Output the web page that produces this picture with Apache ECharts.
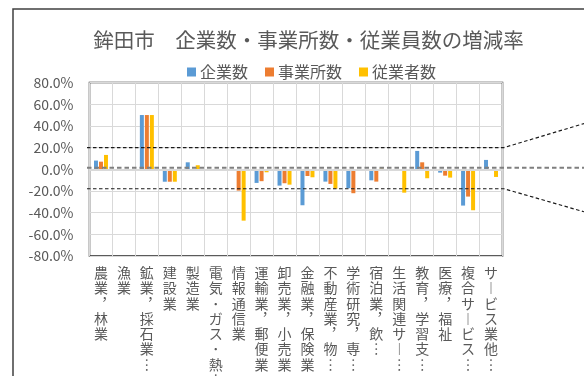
<!DOCTYPE html>
<html><head><meta charset="utf-8">
<script src="https://cdn.jsdelivr.net/npm/echarts@6.0.0/dist/echarts.min.js"></script>
<style>html,body{margin:0;padding:0;background:#fff}#c{width:584px;height:376px}</style>
</head><body><div id="c"></div>
<script>
const chartTitle = '鉾田市　企業数・事業所数・従業員数の増減率';
const categories = ['農業，林業','漁業','鉱業，採石業…','建設業','製造業','電気･ガス･熱…','情報通信業','運輸業，郵便業','卸売業，小売業','金融業，保険業','不動産業，物…','学術研究，専…','宿泊業，飲…','生活関連サー…','教育，学習支…','医療，福祉','複合サービス…','サービス業他…'];
const seriesNames = ['企業数','事業所数','従業者数'];
const companies      = [8, 0, 50, -11.5, 6.4, 0, 0, -12.6, -15.1, -33.2, -11.4, -17.5, -10.2, 0, 16.9, -3.1, -33.5, 8.6];
const establishments = [7, 0, 50, -11.5, 0, 0, -19.7, -11, -12.9, -6.2, -13.5, -22.1, -11.4, -0.8, 6.4, -5.9, -25.2, -1];
const employees      = [13.2, 0, 50, -11.5, 3.7, 0, -47.4, -2.8, -14.2, -7.4, -17.9, 0, 0.5, -21.6, -8.3, -7.7, -37.8, -7.1];
const yMin = -80, yMax = 80, yStep = 20;
const guideLevels = [20, 0, -18];

const colors = ['#5B9BD5', '#ED7D31', '#FFC000'];
const FONT = "'Noto Sans CJK JP', 'Noto Sans', sans-serif";
const TXT = '#595959';
const G = {left: 89.5, right: 81.5, top: 82.5, bottom: 120};
const vmap = {'，':'︐', '…':'︙', 'ー':'︱', '、':'︑'};

const chart = echarts.init(document.getElementById('c'), null, {renderer: 'canvas'});
const dataSets = [companies, establishments, employees];

const option = {
  animation: false,
  backgroundColor: '#fff',
  color: colors,
  textStyle: {fontFamily: FONT},
  title: {
    text: chartTitle, left: 303.5, top: 25, textAlign: 'center',
    textStyle: {fontFamily: FONT, fontSize: 20.5, fontWeight: 'normal', color: TXT}
  },
  legend: {
    left: 182, top: 59, itemWidth: 9, itemHeight: 9, itemGap: 17, icon: 'rect',
    textStyle: {fontFamily: FONT, fontSize: 16, color: TXT, padding: [0,0,0,-1]},
    data: seriesNames
  },
  grid: Object.assign({show: true, borderColor: '#262626', borderWidth: 1.5, containLabel: false, outerBoundsMode: 'none'}, G),
  xAxis: {
    type: 'category', data: categories,
    axisLine: {show: false, onZero: false},
    axisTick: {show: false},
    splitLine: {show: true, interval: 0, lineStyle: {color: '#d9d9d9', width: 1}},
    axisLabel: {
      interval: 0, margin: 9, color: TXT, fontFamily: FONT, fontSize: 14, lineHeight: 15.3,
      formatter: name => Array.from(name).map(c => vmap[c] || c).join('\n')
    }
  },
  yAxis: {
    type: 'value', min: yMin, max: yMax, interval: yStep,
    axisLine: {show: false}, axisTick: {show: false},
    splitLine: {lineStyle: {color: '#d9d9d9', width: 1}},
    axisLabel: {margin: 16, color: TXT, fontFamily: FONT, fontSize: 14,
      formatter: v => v.toFixed(1) + '%'}
  },
  series: seriesNames.map((n, i) => ({
    name: n, type: 'bar', data: dataSets[i], barWidth: 4, barGap: '25%',
    itemStyle: {color: colors[i]},
    markLine: i === 0 ? {silent: true, symbol: 'none', label: {show: false},
      lineStyle: {color: '#d9d9d9', width: 2, type: 'solid'}, data: [{yAxis: 0}]} : undefined
  }))
};
chart.setOption(option);

const yTop = chart.convertToPixel({yAxisIndex: 0}, guideLevels[0]);
const yZero = chart.convertToPixel({yAxisIndex: 0}, guideLevels[1]) - 1.5;
const yBot = chart.convertToPixel({yAxisIndex: 0}, guideLevels[2]);
const xL = G.left - 2.5, xR = 584 - G.right + 1.5, xEnd = 584;
const dashBlack = {stroke: '#1a1a1a', lineWidth: 1.2, lineDash: [3.5, 2.5], fill: null};
chart.setOption({
  graphic: [
    {type: 'rect', silent: true, z: 100, shape: {x: 13, y: 9, width: 700, height: 500},
      style: {fill: null, stroke: '#404040', lineWidth: 1.5}},
    {type: 'polyline', silent: true, z: 100, shape: {points: [[xL, yTop], [xR, yTop], [xEnd, yTop - 24]]}, style: dashBlack},
    {type: 'polyline', silent: true, z: 100, shape: {points: [[xL, yBot], [xR, yBot], [xEnd, yBot + 23]]}, style: dashBlack},
    {type: 'line', silent: true, z: 100, shape: {x1: xL, y1: yZero, x2: xEnd, y2: yZero},
      style: {stroke: '#7f7f7f', lineWidth: 2, lineDash: [4.5, 3]}}
  ]
});
</script></body></html>
